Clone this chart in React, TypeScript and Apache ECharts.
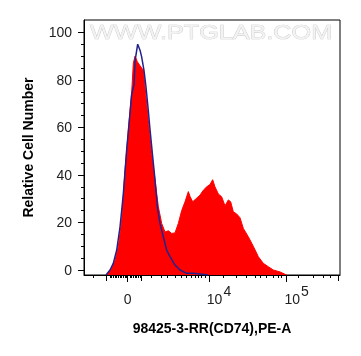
import React, { useEffect, useRef } from 'react';
import * as echarts from 'echarts';

const FONT = 'Arial, "Liberation Sans", Helvetica, sans-serif';

// x axis in display units: 4 = 10^4, 5 = 10^5 (biexponential display)
const xMin = 2.391;
const xMax = 5.686;
const yMin = -2.1;
const yMax = 105.2;

const sampleX = [2.683, 2.747, 2.79, 2.833, 2.876, 2.919, 2.962, 3.005, 3.026, 3.048, 3.078, 3.112, 3.155, 3.189, 3.219, 3.262, 3.305, 3.348, 3.391, 3.434, 3.477, 3.519, 3.562, 3.605, 3.648, 3.691, 3.734, 3.755, 3.79, 3.833, 3.884, 3.927, 3.97, 4.013, 4.047, 4.077, 4.12, 4.163, 4.206, 4.249, 4.279, 4.313, 4.356, 4.399, 4.442, 4.506, 4.57, 4.635, 4.699, 4.763, 4.828, 4.914, 4.999];
const sampleY = [-2.1, 0.7, 4, 10, 21, 42, 59, 75, 87, 90, 87.6, 86, 84, 73, 63, 49, 38, 26.6, 19.6, 16, 16.5, 15.4, 15.6, 19.6, 25, 28.7, 33, 31, 28.7, 30, 31.5, 33.6, 35, 36, 38, 35, 32, 30.8, 27, 29.5, 28.7, 24.5, 23.6, 22, 17.5, 14, 10, 5.6, 2.8, 1.4, 0, -0.8, -2.1];

const controlX = [2.674, 2.726, 2.768, 2.812, 2.854, 2.897, 2.94, 2.983, 3.005, 3.035, 3.048, 3.082, 3.112, 3.133, 3.163, 3.189, 3.219, 3.241, 3.275, 3.305, 3.335, 3.369, 3.412, 3.455, 3.498, 3.562, 3.627, 3.712, 3.798, 3.884, 3.991];
const controlY = [-2.1, 0, 2.8, 8.4, 18, 32, 50.5, 66, 74, 78, 88, 95, 92.5, 89.7, 84, 77, 67, 59, 47.7, 38, 26.6, 19.6, 14, 8.4, 5.6, 2.1, 0, -1.4, -1.4, -1.7, -2.1];

const xLabelValues = [2.954, 4, 5];
const xLabelBase = ['0', '10', '10'];
const xLabelSup = ['', '4', '5'];
const xMajorTicks = [2.954, 4, 5];
const xMediumTicks = [2.683, 3.134, 5.664];
const xMinorTicks = [2.511, 2.726, 2.748, 2.768, 2.79, 2.812, 2.833, 2.854, 2.876, 2.897, 2.919, 2.941, 2.983, 3.005, 3.026, 3.048, 3.069, 3.09, 3.112, 3.263, 3.391, 3.463, 3.562, 3.649, 3.713, 3.777, 3.82, 3.862, 3.906, 3.949, 4.184, 4.356, 4.485, 4.592, 4.656, 4.743, 4.828, 4.892, 4.936, 5.149, 5.342, 5.471, 5.557];
const yMajorTicks = [0, 20, 40, 60, 80, 100];
const yMinorTicks = [5, 10, 15, 25, 30, 35, 45, 50, 55, 65, 70, 75, 85, 90, 95];

const xName = '98425-3-RR(CD74),PE-A';
const yName = 'Relative Cell Number';
const watermark = 'WWW.PTGLAB.COM';

export default function App() {
  const ref = useRef<HTMLDivElement>(null);
  useEffect(() => {
    const chart = echarts.init(ref.current!, null, { renderer: 'svg' });
    const box = { left: 84, top: 20, right: 21, bottom: 81 };
    const blankY = (gi: number) => ({
      gridIndex: gi, type: 'value', min: yMin, max: yMax, show: false,
    });
    const option: any = {
      animation: false,
      grid: [
        { ...box, show: true, borderColor: '#000', borderWidth: 1, backgroundColor: 'transparent' },
        { ...box },
        { ...box },
      ],
      xAxis: [
        {
          gridIndex: 0, type: 'value', min: xMin, max: xMax, position: 'bottom',
          axisLine: { show: true, onZero: false, lineStyle: { color: '#000', width: 1 } },
          axisTick: { show: true, length: 7, customValues: xMajorTicks, lineStyle: { color: '#000', width: 1 } },
          axisLabel: {
            customValues: xLabelValues,
            margin: 9,
            formatter: (v: number) => {
              const i = xLabelValues.findIndex((p) => Math.abs(p - v) < 1e-6);
              if (i < 0) return '';
              if (!xLabelSup[i]) return '{base|' + xLabelBase[i] + '}';
              return '{pad|}{base|' + xLabelBase[i] + '}{sup|' + xLabelSup[i] + '}';
            },
            rich: {
              base: { fontSize: 14, fontFamily: FONT, color: '#222', padding: [8, 0, 0, 0] },
              sup: { fontSize: 14, fontFamily: FONT, color: '#222', padding: [0, 0, 8, 1] },
              pad: { width: 20 },
            },
          },
          splitLine: { show: false },
          name: xName, nameLocation: 'middle', nameGap: 46,
          nameTextStyle: { fontSize: 14, fontWeight: 'bold', color: '#000', fontFamily: FONT },
        },
        {
          gridIndex: 1, type: 'value', min: xMin, max: xMax, position: 'bottom',
          axisLine: { show: false, onZero: false },
          axisTick: { show: true, length: 3, customValues: xMinorTicks, lineStyle: { color: '#000', width: 1 } },
          axisLabel: { show: false }, splitLine: { show: false },
        },
        {
          gridIndex: 2, type: 'value', min: xMin, max: xMax, position: 'bottom',
          axisLine: { show: false, onZero: false },
          axisTick: { show: true, length: 6, customValues: xMediumTicks, lineStyle: { color: '#000', width: 1 } },
          axisLabel: { show: false }, splitLine: { show: false },
        },
      ],
      yAxis: [
        {
          gridIndex: 0, type: 'value', min: yMin, max: yMax,
          axisLine: { show: true, onZero: false, lineStyle: { color: '#000', width: 1 } },
          axisTick: { show: true, length: 6, customValues: yMajorTicks, lineStyle: { color: '#000', width: 1 } },
          axisLabel: { customValues: yMajorTicks, margin: 12, fontSize: 14, fontFamily: FONT, color: '#222' },
          splitLine: { show: false },
          name: yName, nameLocation: 'middle', nameGap: 49,
          nameTextStyle: { fontSize: 14, fontWeight: 'bold', color: '#000', fontFamily: FONT },
        },
        {
          gridIndex: 1, type: 'value', min: yMin, max: yMax,
          axisLine: { show: false, onZero: false },
          axisTick: { show: true, length: 3, customValues: yMinorTicks, lineStyle: { color: '#000', width: 1 } },
          axisLabel: { show: false }, splitLine: { show: false },
        },
        blankY(2),
      ],
      series: [
        {
          type: 'line', xAxisIndex: 0, yAxisIndex: 0,
          data: sampleX.map((x, i) => [x, sampleY[i]]),
          showSymbol: false, symbol: 'none',
          lineStyle: { color: '#ff0000', width: 1 },
          areaStyle: { color: '#ff0000', opacity: 1, origin: 'start' },
          z: 2,
        },
        {
          type: 'line', xAxisIndex: 0, yAxisIndex: 0,
          data: controlX.map((x, i) => [x, controlY[i]]),
          showSymbol: false, symbol: 'none',
          lineStyle: { color: '#22228f', width: 1.5 },
          z: 3,
        },
      ],
      graphic: [
        {
          type: 'text', x: 90, y: 21, scaleX: 1.2, z: 10,
          style: {
            text: watermark, font: '21px ' + FONT,
            fill: '#f3f3f3', stroke: '#c6c6c6', lineWidth: 0.7,
            textAlign: 'left', textVerticalAlign: 'top', align: 'left', verticalAlign: 'top',
          },
        },
      ],
    };
    chart.setOption(option);
    return () => chart.dispose();
  }, []);
  return <div ref={ref} style={{ position: 'fixed', left: 0, top: 0, width: 361, height: 356 }} />;
}
